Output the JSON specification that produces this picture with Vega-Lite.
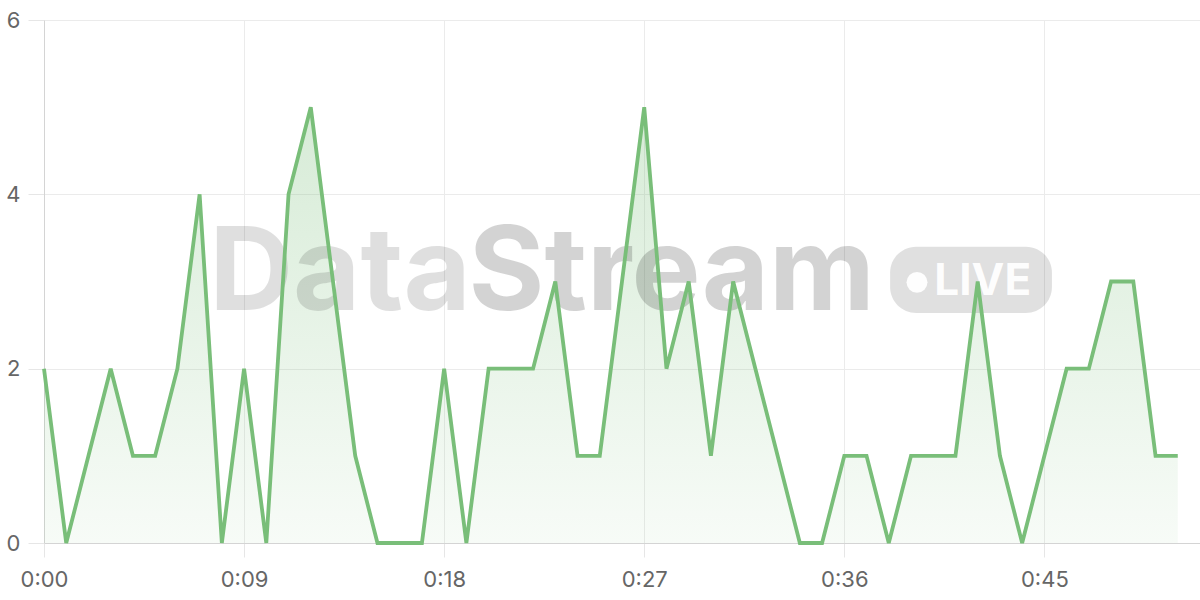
{
  "$schema": "https://vega.github.io/schema/vega-lite/v6.json",
  "width": 1156,
  "height": 523,
  "autosize": "none",
  "padding": {"left": 44, "top": 20, "right": 0, "bottom": 57},
  "background": "white",
  "config": {
    "view": {"stroke": null},
    "axis": {
      "labelFont": "Inter",
      "labelFontSize": 22,
      "labelColor": "#666666",
      "labelFlush": false,
      "gridColor": "#ebebeb",
      "gridWidth": 1,
      "domainColor": "#d4d4d4",
      "domainWidth": 1,
      "tickColor": "#e6e6e6",
      "tickWidth": 1,
      "title": null
    }
  },
  "datasets": {
    "counts": [
      {"t": 0, "count": 2}, {"t": 1, "count": 0}, {"t": 2, "count": 1}, {"t": 3, "count": 2},
      {"t": 4, "count": 1}, {"t": 5, "count": 1}, {"t": 6, "count": 2}, {"t": 7, "count": 4},
      {"t": 8, "count": 0}, {"t": 9, "count": 2}, {"t": 10, "count": 0}, {"t": 11, "count": 4},
      {"t": 12, "count": 5}, {"t": 13, "count": 3}, {"t": 14, "count": 1}, {"t": 15, "count": 0},
      {"t": 16, "count": 0}, {"t": 17, "count": 0}, {"t": 18, "count": 2}, {"t": 19, "count": 0},
      {"t": 20, "count": 2}, {"t": 21, "count": 2}, {"t": 22, "count": 2}, {"t": 23, "count": 3},
      {"t": 24, "count": 1}, {"t": 25, "count": 1}, {"t": 26, "count": 3}, {"t": 27, "count": 5},
      {"t": 28, "count": 2}, {"t": 29, "count": 3}, {"t": 30, "count": 1}, {"t": 31, "count": 3},
      {"t": 32, "count": 2}, {"t": 33, "count": 1}, {"t": 34, "count": 0}, {"t": 35, "count": 0},
      {"t": 36, "count": 1}, {"t": 37, "count": 1}, {"t": 38, "count": 0}, {"t": 39, "count": 1},
      {"t": 40, "count": 1}, {"t": 41, "count": 1}, {"t": 42, "count": 3}, {"t": 43, "count": 1},
      {"t": 44, "count": 0}, {"t": 45, "count": 1}, {"t": 46, "count": 2}, {"t": 47, "count": 2},
      {"t": 48, "count": 3}, {"t": 49, "count": 3}, {"t": 50, "count": 1}, {"t": 51, "count": 1}
    ],
    "mark1": [{"word": "Data"}],
    "mark2": [{"word": "Stream"}],
    "badge": [{"word": "LIVE"}]
  },
  "layer": [
    {
      "data": {"name": "counts"},
      "mark": {
        "type": "area",
        "color": {
          "gradient": "linear",
          "x1": 0, "y1": 0, "x2": 0, "y2": 1,
          "stops": [
            {"offset": 0, "color": "rgba(121,190,121,0.30)"},
            {"offset": 1, "color": "rgba(121,190,121,0.06)"}
          ]
        }
      },
      "encoding": {
        "x": {
          "field": "t",
          "type": "quantitative",
          "scale": {"domain": [0, 52], "nice": false, "zero": false},
          "axis": {
            "values": [0, 9, 18, 27, 36, 45],
            "labelExpr": "'0:' + (datum.value < 10 ? '0' + datum.value : datum.value)",
            "tickSize": 14,
            "labelPadding": 12,
            "labelAngle": 0
          }
        },
        "y": {
          "field": "count",
          "type": "quantitative",
          "scale": {"domain": [0, 6], "nice": false},
          "axis": {
            "values": [0, 2, 4, 6],
            "format": "d",
            "tickSize": 16,
            "labelPadding": 8
          }
        }
      }
    },
    {
      "data": {"name": "mark1"},
      "mark": {"type": "text", "font": "Inter", "fontWeight": "bold", "fontSize": 116, "align": "right", "baseline": "alphabetic", "color": "black", "opacity": 0.12},
      "encoding": {
        "x": {"datum": 19.2, "type": "quantitative"},
        "y": {"datum": 2.67, "type": "quantitative"},
        "text": {"field": "word"}
      }
    },
    {
      "data": {"name": "mark2"},
      "mark": {"type": "text", "font": "Inter", "fontWeight": "bold", "fontSize": 116, "align": "left", "baseline": "alphabetic", "color": "black", "opacity": 0.17},
      "encoding": {
        "x": {"datum": 19.1, "type": "quantitative"},
        "y": {"datum": 2.67, "type": "quantitative"},
        "text": {"field": "word"}
      }
    },
    {
      "data": {"name": "badge"},
      "mark": {"type": "rect", "cornerRadius": 26, "color": "black", "opacity": 0.12},
      "encoding": {
        "x": {"datum": 38.06, "type": "quantitative"},
        "x2": {"datum": 45.34},
        "y": {"datum": 3.40, "type": "quantitative"},
        "y2": {"datum": 2.64}
      }
    },
    {
      "data": {"name": "badge"},
      "mark": {"type": "point", "filled": true, "shape": "circle", "size": 440, "color": "white", "opacity": 0.95},
      "encoding": {
        "x": {"datum": 39.27, "type": "quantitative"},
        "y": {"datum": 2.99, "type": "quantitative"}
      }
    },
    {
      "data": {"name": "badge"},
      "mark": {"type": "text", "font": "Inter", "fontWeight": "bold", "fontSize": 44, "align": "left", "baseline": "alphabetic", "color": "white", "opacity": 0.95},
      "encoding": {
        "x": {"datum": 40.05, "type": "quantitative"},
        "y": {"datum": 2.845, "type": "quantitative"},
        "text": {"field": "word"}
      }
    },
    {
      "data": {"name": "counts"},
      "mark": {"type": "line", "color": "#79be79", "strokeWidth": 3.8, "strokeJoin": "miter"},
      "encoding": {
        "x": {"field": "t", "type": "quantitative"},
        "y": {"field": "count", "type": "quantitative"}
      }
    }
  ]
}
